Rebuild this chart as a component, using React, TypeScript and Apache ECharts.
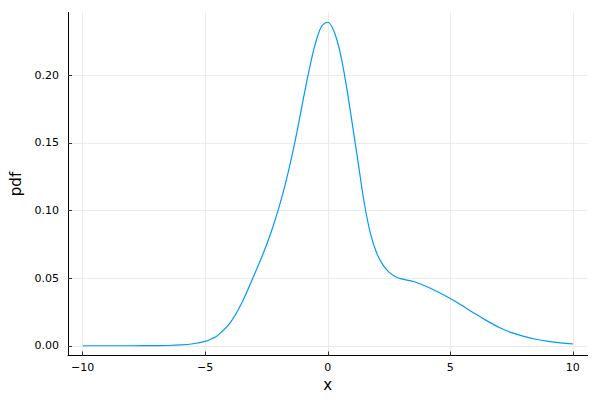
import React, { useEffect, useRef } from "react";
import * as echarts from "echarts";

const xValues = [
  -10, -9, -8, -7, -6.5, -6, -5.5, -5, -4.75, -4.5, -4, -3.5, -3, -2.75, -2.5, -2.25, -2,
  -1.75, -1.5, -1.25, -1, -0.75, -0.5, -0.25, 0, 0.25, 0.5, 0.75, 1, 1.25, 1.5, 1.75, 2,
  2.25, 2.5, 2.75, 3, 3.5, 4, 4.5, 5, 5.5, 6, 6.5, 7, 7.5, 8, 8.5, 9, 9.5, 10,
];
const pdfValues = [
  0.0, 0.0, 0.0, 0.0001, 0.0002, 0.0006, 0.0015, 0.0032, 0.005, 0.0075, 0.0165, 0.032,
  0.0525, 0.063, 0.0745, 0.0873, 0.1018, 0.1183, 0.1373, 0.1588, 0.1823, 0.2048, 0.2238,
  0.2363, 0.2393, 0.2328, 0.2173, 0.1933, 0.1643, 0.1343, 0.1045, 0.0825, 0.0685, 0.0598,
  0.0545, 0.0512, 0.0495, 0.0475, 0.044, 0.0398, 0.035, 0.0296, 0.0238, 0.0184, 0.0135,
  0.0097, 0.0069, 0.0048, 0.0033, 0.0022, 0.0014,
];
const xTicks = [-10, -5, 0, 5, 10];
const yTicks = [0, 0.05, 0.1, 0.15, 0.2];

const FONT = "DejaVu Sans";

export default function App() {
  const ref = useRef<HTMLDivElement>(null);
  useEffect(() => {
    if (!ref.current) return;
    const chart = echarts.init(ref.current, undefined, { renderer: "svg" });
    const data = xValues.map((x, i) => [x, pdfValues[i]]);
    chart.setOption({
      animation: false,
      backgroundColor: "#ffffff",
      grid: { left: 62, right: 12.5, top: 12.5, bottom: 44.5, containLabel: false },
      xAxis: {
        type: "value",
        min: -10.6,
        max: 10.6,
        name: "x",
        nameLocation: "middle",
        nameGap: 21,
        nameTextStyle: { fontFamily: FONT, fontSize: 15, color: "#000" },
        axisLine: { show: true, onZero: false, lineStyle: { color: "#000", width: 1 } },
        axisTick: { show: true, inside: true, length: 4, customValues: xTicks, lineStyle: { color: "#333" } },
        axisLabel: {
          customValues: xTicks,
          fontFamily: FONT,
          fontSize: 11,
          color: "#000",
          margin: 6,
          formatter: (v: number) => String(v).replace("-", "\u2212"),
        },
        splitLine: { show: true, lineStyle: { color: "#ebebeb", width: 1 } },
      },
      yAxis: {
        type: "value",
        min: -0.0072,
        max: 0.2465,
        name: "pdf",
        nameLocation: "middle",
        nameRotate: 90,
        nameGap: 45,
        nameTextStyle: { fontFamily: FONT, fontSize: 15, color: "#000" },
        axisLine: { show: true, onZero: false, lineStyle: { color: "#000", width: 1 } },
        axisTick: { show: true, inside: true, length: 4, customValues: yTicks, lineStyle: { color: "#333" } },
        axisLabel: {
          customValues: yTicks,
          fontFamily: FONT,
          fontSize: 11,
          color: "#000",
          margin: 9,
          formatter: (v: number) => v.toFixed(2),
        },
        splitLine: { show: true, lineStyle: { color: "#ebebeb", width: 1 } },
      },
      series: [
        {
          type: "line",
          data,
          smooth: 0.35,
          showSymbol: false,
          symbol: "none",
          lineStyle: { color: "#009AFA", width: 1.2 },
          silent: true,
        },
      ],
    });
    return () => chart.dispose();
  }, []);
  return (
    <div
      ref={ref}
      style={{ position: "absolute", left: 0, top: 0, width: 600, height: 400 }}
    />
  );
}
